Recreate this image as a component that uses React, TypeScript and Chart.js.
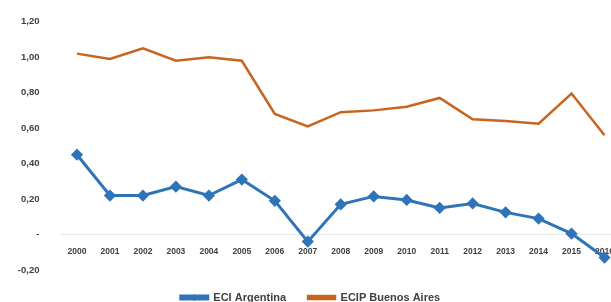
import React, { useEffect, useRef } from "react";
import { Chart, registerables } from "chart.js";

Chart.register(...registerables);

const years = ["2000","2001","2002","2003","2004","2005","2006","2007","2008","2009","2010","2011","2012","2013","2014","2015","2016"];
const eciArgentina = [0.45,0.22,0.22,0.27,0.22,0.31,0.19,-0.04,0.17,0.215,0.195,0.15,0.175,0.125,0.09,0.005,-0.13];
const ecipBuenosAires = [1.02,0.99,1.05,0.98,1.0,0.98,0.68,0.61,0.69,0.70,0.72,0.77,0.65,0.64,0.625,0.795,0.56];
const yTicks = [-0.2,0,0.2,0.4,0.6,0.8,1.0,1.2];

const BLUE = "#2F74B8";
const ORANGE = "#C8641E";
const FONT = "'Liberation Sans', Arial, sans-serif";

const legendDiamond = {
  id: "legendDiamond",
  afterDraw(chart: any) {
    const legend = chart.legend;
    if (!legend || !legend.legendHitBoxes || !legend.legendHitBoxes[0]) return;
    const hb = legend.legendHitBoxes[0];
    const bw = legend.options.labels.boxWidth;
    const cx = hb.left + bw / 2;
    const cy = hb.top + hb.height / 2;
    const ctx = chart.ctx;
    ctx.save();
    ctx.fillStyle = BLUE;
    ctx.beginPath();
    const r = 3.5;
    ctx.moveTo(cx, cy - r);
    ctx.lineTo(cx + r, cy);
    ctx.lineTo(cx, cy + r);
    ctx.lineTo(cx - r, cy);
    ctx.closePath();
    ctx.fill();
    ctx.restore();
  },
};

export default function App() {
  const ref = useRef<HTMLCanvasElement | null>(null);
  useEffect(() => {
    if (!ref.current) return;
    const chart = new Chart(ref.current, {
      type: "line",
      data: {
        labels: years,
        datasets: [
          {
            label: "ECI Argentina",
            data: eciArgentina,
            borderColor: BLUE,
            backgroundColor: BLUE,
            borderWidth: 3,
            pointStyle: "rectRot",
            pointRadius: 4,
            pointBackgroundColor: BLUE,
            pointBorderColor: BLUE,
            tension: 0,
          },
          {
            label: "ECIP Buenos Aires",
            data: ecipBuenosAires,
            borderColor: ORANGE,
            backgroundColor: ORANGE,
            borderWidth: 2.5,
            pointRadius: 0,
            tension: 0,
          },
        ],
      },
      options: {
        responsive: false,
        animation: false,
        layout: { padding: { top: 15, left: 0, right: 19, bottom: 0 } },
        plugins: {
          tooltip: { enabled: false },
          legend: {
            position: "bottom",
            labels: {
              boxWidth: 27,
              boxHeight: 3,
              padding: 22,
              color: "#404040",
              font: { family: FONT, size: 11, weight: "bold" },
            },
          },
        },
        scales: {
          x: {
            type: "category",
            position: { y: 0 } as any,
            offset: true,
            grid: { display: false, drawTicks: false },
            border: { display: true, color: "#E6E6E6", width: 1 },
            ticks: {
              color: "#404040",
              font: { family: FONT, size: 8.5, weight: "bold" },
              maxRotation: 0,
              autoSkip: false,
              padding: 12,
            },
          },
          y: {
            min: -0.2,
            max: 1.2,
            afterFit: (s: any) => { s.width = 60.5; },
            afterBuildTicks: (s: any) => { s.ticks = yTicks.map((v) => ({ value: v })); },
            grid: { display: false, drawTicks: false },
            border: { display: false },
            ticks: {
              color: "#404040",
              padding: 21,
              font: { family: FONT, size: 9.5, weight: "bold" },
              callback: (v: any) => (Math.abs(Number(v)) < 1e-9 ? "-" : Number(v).toFixed(2).replace(".", ",")),
            },
          },
        },
      },
      plugins: [legendDiamond],
    });
    return () => chart.destroy();
  }, []);
  return (
    <div style={{ position: "fixed", left: 0, top: 0, width: 611, height: 302, overflow: "hidden", background: "#fff" }}>
      <canvas ref={ref} width={640} height={318} style={{ display: "block", width: 640, height: 318, marginTop: -5 }} />
    </div>
  );
}
